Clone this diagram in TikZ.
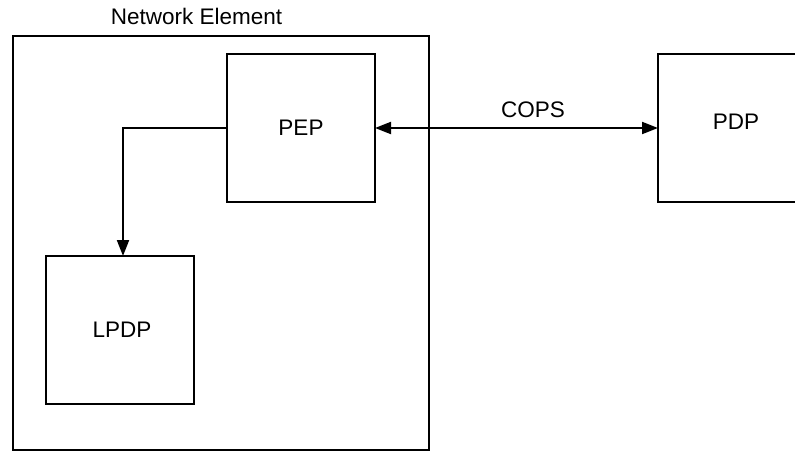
\documentclass[tikz,border=0pt]{standalone}
\usepackage{fontspec}
\setmainfont{Liberation Sans}
\usetikzlibrary{arrows.meta}
\begin{document}
\begin{tikzpicture}[x=1pt,y=-1pt,
  box/.style={draw,line width=2pt,inner sep=0pt,outer sep=0pt},
  lbl/.style={font=\fontsize{22.5}{27}\selectfont,inner sep=0pt},
  conn/.style={draw,line width=2pt,-{Triangle[length=16pt,width=12pt]}},
  conn2/.style={draw,line width=2pt,{Triangle[length=16pt,width=12pt]}-{Triangle[length=16pt,width=12pt]}}]
\useasboundingbox (0,0) rectangle (795,452);
\node[box,minimum width=416pt,minimum height=414pt] (ne) at (221,243) {};
\node[lbl,anchor=base] (nelbl) at (196.5,25) {Network Element};
\node[box,minimum width=148pt,minimum height=148pt] (pep) at (301,128) {};
\node[lbl] (peplbl) at (pep.center) {PEP};
\node[box,minimum width=156pt,minimum height=148pt] (pdp) at (736,128) {};
\node[lbl] (pdplbl) at (736,122) {PDP};
\node[box,minimum width=148pt,minimum height=148pt] (lpdp) at (120,330) {};
\node[lbl] (lpdplbl) at (122,330) {LPDP};
\path[conn] (pep.west) -| ([xshift=3pt]lpdp.north);
\path[conn2] (pep.east) -- (pdp.west);
\node[lbl,anchor=base] (cops) at (533,117) {COPS};
\end{tikzpicture}
\end{document}
